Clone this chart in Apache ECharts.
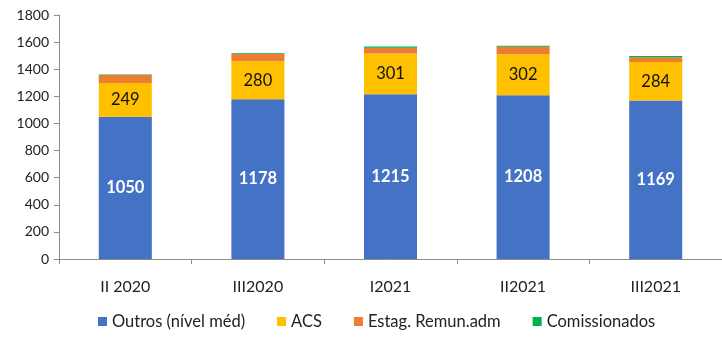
<!DOCTYPE html>
<html>
<head>
<meta charset="utf-8">
<script src="https://cdn.jsdelivr.net/npm/echarts@6/dist/echarts.min.js"></script>
<style>
  html, body { margin: 0; padding: 0; background: #fff; }
  #chart { width: 722px; height: 340px; }
</style>
</head>
<body>
<div id="chart"></div>
<script>
// Quarterly headcount by staff group
const categories = ['II 2020', 'III2020', 'I2021', 'II2021', 'III2021'];
const outros = [1050, 1178, 1215, 1208, 1169];
const acs = [249, 280, 301, 302, 284];
const estag = [58, 55, 42, 55, 36];
const comissionados = [4, 4, 10, 8, 8];
const yTicks = [0, 200, 400, 600, 800, 1000, 1200, 1400, 1600, 1800];

const font = 'Lato, "Liberation Sans", sans-serif';
const chart = echarts.init(document.getElementById('chart'));

function series(name, data, color, label) {
  return {
    name: name,
    type: 'bar',
    stack: 'total',
    data: data,
    barWidth: '40%',
    itemStyle: { color: color },
    label: label || { show: false },
    emphasis: { disabled: true }
  };
}

chart.setOption({
  animation: false,
  textStyle: { fontFamily: font },
  grid: { left: 59, top: 15, width: 670, height: 244, containLabel: false },
  legend: {
    bottom: 5,
    left: 93,
    itemWidth: 9,
    itemHeight: 9,
    itemGap: 32,
    icon: 'rect',
    textStyle: { fontFamily: font, fontSize: 16.5, color: '#222' },
    data: ['Outros (nível méd)', 'ACS', 'Estag. Remun.adm', 'Comissionados']
  },
  xAxis: {
    type: 'category',
    data: categories,
    axisLine: { lineStyle: { color: '#8c8c8c' } },
    axisTick: { show: true, length: 5, lineStyle: { color: '#8c8c8c' } },
    axisLabel: { fontFamily: font, fontSize: 16, color: '#222', margin: 20 }
  },
  yAxis: {
    type: 'value',
    min: yTicks[0],
    max: yTicks[yTicks.length - 1],
    interval: 200,
    splitLine: { show: false },
    axisLine: { show: true, lineStyle: { color: '#8c8c8c' } },
    axisTick: { show: true, length: 5, lineStyle: { color: '#8c8c8c' } },
    axisLabel: {
      fontFamily: font, fontSize: 14, color: '#222', margin: 10,
      formatter: function (v) { return String(v); }
    }
  },
  series: [
    series('Outros (nível méd)', outros, '#4472C4', {
      show: true, position: 'inside', color: '#fff', fontWeight: 'bold',
      fontSize: 16.5, fontFamily: font
    }),
    series('ACS', acs, '#FFC000', {
      show: true, position: 'inside', color: '#111', fontSize: 16.5, fontFamily: font
    }),
    series('Estag. Remun.adm', estag, '#ED7D31'),
    series('Comissionados', comissionados, '#00B050')
  ]
});
</script>
</body>
</html>
